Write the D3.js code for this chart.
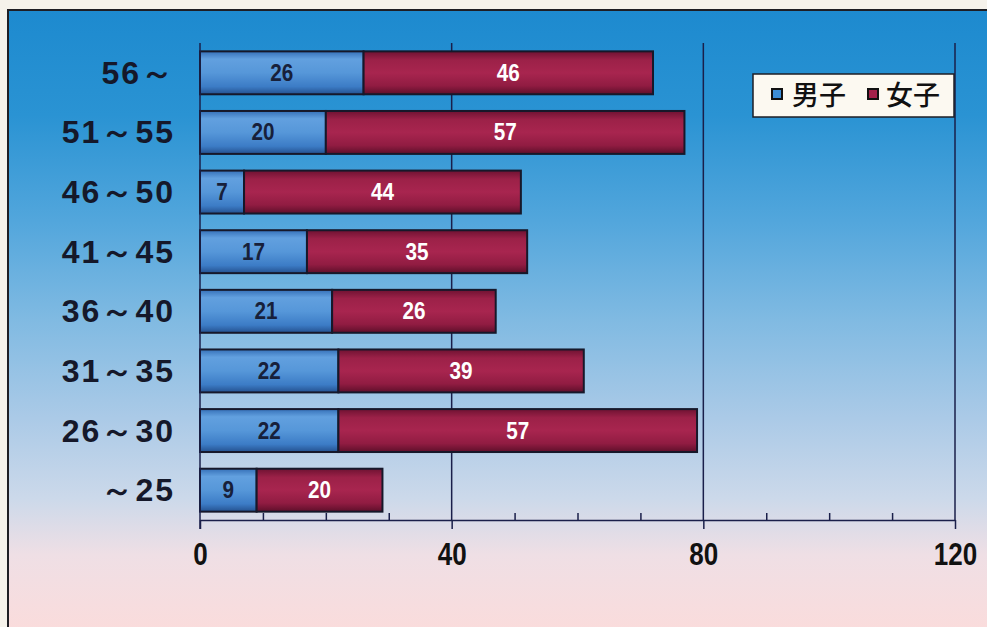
<!DOCTYPE html>
<html><head><meta charset="utf-8">
<script src="https://cdn.jsdelivr.net/npm/d3@7/dist/d3.min.js"></script>
<style>html,body{margin:0;padding:0;background:#f5f2eb;}svg{display:block;}</style>
</head><body><svg id="c" width="987" height="627"></svg>
<script>
const categories = ["56～","51～55","46～50","41～45","36～40","31～35","26～30","～25"];
const male   = [26, 20, 7, 17, 21, 22, 22, 9];
const female = [46, 57, 44, 35, 26, 39, 57, 20];
const seriesNames = ["男子","女子"];
const majorTicks = [0, 40, 80, 120];
const minorTicks = [10, 20, 30, 50, 60, 70, 90, 100, 110];

const W = 987, H = 627;
const svg = d3.select("#c");
const defs = svg.append("defs");

const bg = defs.append("linearGradient").attr("id","bg").attr("x1",0).attr("y1",0).attr("x2",0).attr("y2",1);
[[0,"#1d8acf"],[0.17,"#2a93d3"],[0.34,"#52a6dc"],[0.50,"#80bae2"],[0.66,"#abcae7"],[0.79,"#ccd9ea"],[0.88,"#efdfe5"],[1,"#fadcdc"]]
  .forEach(([o,c])=>bg.append("stop").attr("offset",o).attr("stop-color",c));

const gBlue = defs.append("linearGradient").attr("id","gBlue").attr("x1",0).attr("y1",0).attr("x2",0).attr("y2",1);
[[0,"#3570b8"],[0.18,"#62a0df"],[0.5,"#5697d9"],[0.82,"#3c7cc6"],[1,"#24518f"]]
  .forEach(([o,c])=>gBlue.append("stop").attr("offset",o).attr("stop-color",c));
const gRed = defs.append("linearGradient").attr("id","gRed").attr("x1",0).attr("y1",0).attr("x2",0).attr("y2",1);
[[0,"#6e1232"],[0.2,"#9c2148"],[0.5,"#a8254f"],[0.8,"#911c42"],[1,"#5e0f2a"]]
  .forEach(([o,c])=>gRed.append("stop").attr("offset",o).attr("stop-color",c));

// paper + frame
svg.append("rect").attr("width",W).attr("height",H).attr("fill","#f5f2eb");
svg.append("rect").attr("x",8).attr("y",10).attr("width",W+10).attr("height",H-8)
  .attr("fill","url(#bg)").attr("stroke","#1e1e24").attr("stroke-width",2);

const topY = 43, axisY = 520;
const x = d3.scaleLinear().domain([0,120]).range([200,955]);
const y = d3.scaleBand().domain(categories).range([topY, axisY]).paddingInner(0.28).paddingOuter(0.14);

const lineCol = "#1a1f4a";
// gridlines
svg.append("g").selectAll("line").data(majorTicks.slice(1)).join("line")
  .attr("x1",d=>x(d)).attr("x2",d=>x(d)).attr("y1",topY).attr("y2",axisY)
  .attr("stroke",lineCol).attr("stroke-width",1.5);

// bars
const rows = categories.map((c,i)=>({c, m:male[i], f:female[i]}));
const gb = svg.append("g");
gb.selectAll("rect.m").data(rows).join("rect").attr("class","m")
  .attr("x",x(0)).attr("y",d=>y(d.c)).attr("width",d=>x(d.m)-x(0)).attr("height",y.bandwidth())
  .attr("fill","url(#gBlue)").attr("stroke","#16182a").attr("stroke-width",2);
gb.selectAll("rect.f").data(rows).join("rect").attr("class","f")
  .attr("x",d=>x(d.m)).attr("y",d=>y(d.c)).attr("width",d=>x(d.m+d.f)-x(d.m)).attr("height",y.bandwidth())
  .attr("fill","url(#gRed)").attr("stroke","#16182a").attr("stroke-width",2);

const valFont = "'Liberation Sans', Arial, sans-serif";
function valText(sel, cx, fill, key){
  sel.attr("transform",d=>`translate(${cx(d)},${y(d.c)+y.bandwidth()/2+8}) scale(0.9,1.05)`)
    .attr("text-anchor","middle").attr("font-family",valFont).attr("font-weight","bold")
    .attr("font-size",23).attr("fill",fill).text(d=>d[key]);
}
valText(gb.selectAll("text.m").data(rows).join("text").attr("class","m"), d=>(x(0)+x(d.m))/2, "#17203a", "m");
valText(gb.selectAll("text.f").data(rows).join("text").attr("class","f"), d=>(x(d.m)+x(d.m+d.f))/2, "#ffffff", "f");

// left axis line
svg.append("line").attr("x1",x(0)).attr("x2",x(0)).attr("y1",topY).attr("y2",axisY+9)
  .attr("stroke",lineCol).attr("stroke-width",1.5);

// bottom axis (major ticks below)
const ax = svg.append("g").attr("transform",`translate(0,${axisY})`)
  .call(d3.axisBottom(x).tickValues(majorTicks).tickSizeInner(9).tickSizeOuter(0).tickPadding(14).tickFormat(d3.format("d")));
ax.select(".domain").attr("stroke",lineCol).attr("stroke-width",1.5);
ax.selectAll(".tick line").attr("stroke",lineCol).attr("stroke-width",1.5);
ax.selectAll(".tick text").attr("font-family","'Liberation Sans', Arial, sans-serif")
  .attr("font-weight","bold").attr("font-size",31).attr("fill","#111")
  .attr("transform","scale(0.84,1)");

// minor ticks (upwards)
const am = svg.append("g").attr("transform",`translate(0,${axisY})`)
  .call(d3.axisTop(x).tickValues(minorTicks).tickSizeInner(7).tickSizeOuter(0).tickFormat(""));
am.select(".domain").remove();
am.selectAll(".tick line").attr("stroke",lineCol).attr("stroke-width",1.5);

// category labels
svg.append("g").selectAll("text").data(categories).join("text")
  .attr("x",175).attr("y",d=>y(d)+y.bandwidth()/2+11)
  .attr("text-anchor","end").attr("font-family","'Liberation Sans', Arial, sans-serif")
  .attr("font-weight","bold").attr("font-size",32).attr("letter-spacing",2).attr("fill","#15182a")
  .text(d=>d);

// legend
const lg = svg.append("g");
lg.append("rect").attr("x",753).attr("y",74).attr("width",201).attr("height",43)
  .attr("fill","#fcf9f1").attr("stroke","#1e1e24").attr("stroke-width",1.5);
const legendItems = [{n:seriesNames[0], fill:"#3c8ed8", sx:772, tx:792},{n:seriesNames[1], fill:"#a3214a", sx:868, tx:886}];
legendItems.forEach(it=>{
  lg.append("rect").attr("x",it.sx).attr("y",89).attr("width",10).attr("height",10)
    .attr("fill",it.fill).attr("stroke","#111").attr("stroke-width",2);
  lg.append("text").attr("x",it.tx).attr("y",105).attr("font-family","'Noto Sans CJK JP',sans-serif")
    .attr("font-size",27).attr("font-weight",500).attr("fill","#111").text(it.n);
});
</script></body></html>
